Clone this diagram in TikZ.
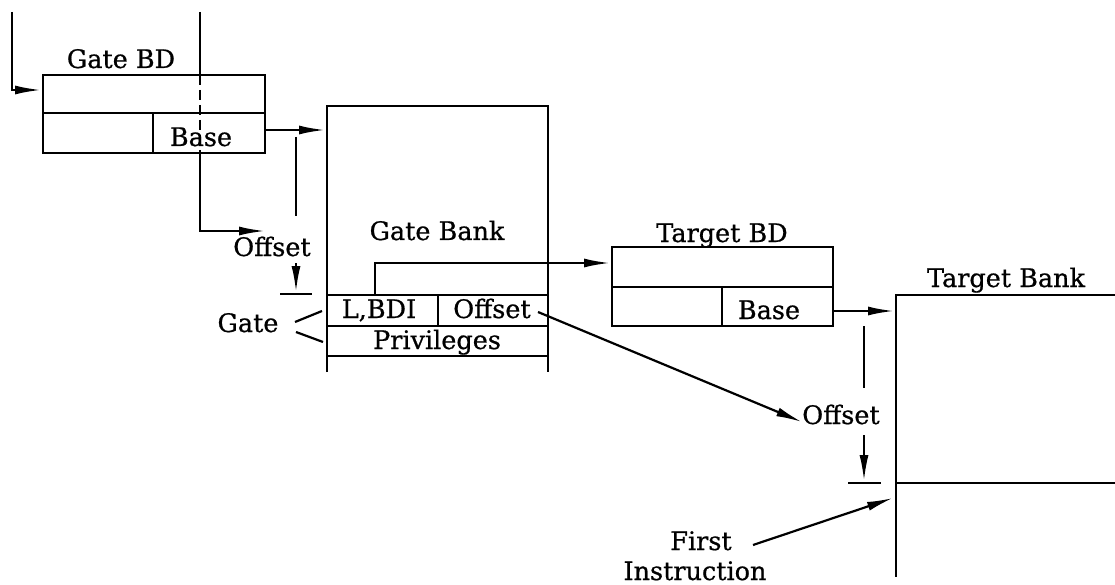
\documentclass[tikz,border=0pt]{standalone}
\usepackage{fontspec}
\setmainfont{DejaVu Serif}[BoldFont={DejaVu Serif},BoldFeatures={FakeBold=0.7}]
\usetikzlibrary{arrows.meta}
\begin{document}
\begin{tikzpicture}[x=1pt,y=-1pt,
  ln/.style={line width=2.2pt},
  arr/.style={ln,-{Latex[length=26pt,width=9pt]}},
  dsh/.style={ln,dash pattern=on 10pt off 5pt},
  lbl/.style={anchor=base,inner sep=0pt,font=\fontsize{25.5}{30}\selectfont\bfseries}]
\useasboundingbox (0,0) rectangle (1115,585);
% ---------- Gate BD ----------
\draw[ln] (43,75) rectangle (265,153);
\draw[ln] (43,113) -- (265,113);
\draw[ln] (153,113) -- (153,153);
\node[lbl] (gbd) at (121,68) {Gate BD};
\node[lbl] (gbase) at (201,146) {Base};
% entry arrow
\coordinate (e0) at (12,12);
\coordinate (e1) at (12,90);
\coordinate (e2) at (41,90);
\draw[arr] (e0) -- (e1) -- (e2);
% vertical pointer through Gate BD
\coordinate (v0) at (200,12);
\coordinate (v1) at (200,75);
\coordinate (v2) at (200,153);
\coordinate (v3) at (200,231);
\coordinate (v4) at (265,231);
\draw[ln] (v0) -- (v1);
\draw[dsh] (v1) -- (v2);
\draw[arr] (v2) -- (v3) -- (v4);
% base arrow to gate bank
\coordinate (gb0) at (265,130);
\coordinate (gb1) at (325,130);
\draw[arr] (gb0) -- (gb1);
% ---------- Gate Bank ----------
\draw[ln] (327,372) -- (327,106) -- (548,106) -- (548,372);
\draw[ln] (327,295) -- (548,295);
\draw[ln] (327,326) -- (548,326);
\draw[ln] (327,356) -- (548,356);
\draw[ln] (438,295) -- (438,326);
\node[lbl] (gbank) at (437,240) {Gate Bank};
\node[lbl] (lbdi) at (379,318) {L,BDI};
\node[lbl] (goff) at (492,318) {Of{}fset};
\node[lbl] (priv) at (437,349) {Privileges};
% offset dimension on gate bank
\coordinate (o0) at (296,137);
\coordinate (o1) at (296,216);
\coordinate (o2) at (296,263);
\coordinate (o3) at (296,292);
\draw[ln] (o0) -- (o1);
\draw[arr] (o2) -- (o3);
\draw[ln] (280,294) -- (312,294);
\node[lbl] (loff) at (272,256) {Of{}fset};
% gate brace lines
\node[lbl] (gate) at (248,332) {Gate};
\draw[ln] (295,322) -- (322,311);
\draw[ln] (296,332) -- (323,342);
% L,BDI pointer to Target BD
\coordinate (l0) at (375,295);
\coordinate (l1) at (375,263);
\coordinate (l2) at (610,263);
\draw[arr] (l0) -- (l1) -- (l2);
% ---------- Target BD ----------
\draw[ln] (612,247) rectangle (833,326);
\draw[ln] (612,287) -- (833,287);
\draw[ln] (722,287) -- (722,326);
\node[lbl] (tbd) at (722,242) {Target BD};
\node[lbl] (tbase) at (769,319) {Base};
\coordinate (tb0) at (833,311);
\coordinate (tb1) at (894,311);
\draw[arr] (tb0) -- (tb1);
% ---------- Target Bank ----------
\draw[ln] (1115,295) -- (896,295) -- (896,577);
\draw[ln] (896,483) -- (1115,483);
\node[lbl] (tbank) at (1006,287) {Target Bank};
% offset dimension on target bank
\node[lbl] (roff) at (841,424) {Of{}fset};
\draw[ln] (864,326) -- (864,388);
\coordinate (r2) at (864,435);
\coordinate (r3) at (864,481);
\draw[arr] (r2) -- (r3);
\draw[ln] (848,483) -- (881,483);
% gate offset to target offset
\coordinate (go0) at (538,312);
\coordinate (go1) at (802,422);
\draw[arr] (go0) -- (go1);
% first instruction
\node[lbl] (first) at (701,550) {First};
\node[lbl] (instr) at (695,580) {Instruction};
\coordinate (fi0) at (753,545);
\coordinate (fi1) at (893,498);
\draw[arr] (fi0) -- (fi1);
\end{tikzpicture}
\end{document}
